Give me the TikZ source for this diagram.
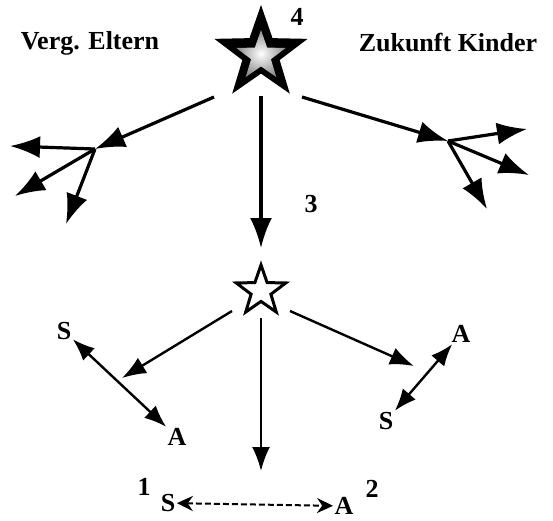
\documentclass[tikz,border=0pt]{standalone}
\usepackage{fontspec}
\setmainfont{Liberation Serif}
\usetikzlibrary{arrows.meta,shapes.geometric}

\begin{document}
\begin{tikzpicture}[x=1pt,y=-1pt,line width=3.2pt,
  label/.style={font=\fontsize{26}{28}\selectfont\bfseries,inner sep=0pt},
  bigarrow/.style={-{Latex[length=30pt,width=22pt]}},
  smallarrow/.style={line width=2.4pt,-{Latex[length=24pt,width=18pt]}},
  twoway/.style={line width=2.4pt,{Latex[length=22pt,width=17pt]}-{Latex[length=22pt,width=17pt]}}]

\useasboundingbox (0,0) rectangle (553,520);

% 4
\node[star,star points=5,star point ratio=2.5,fill=black,minimum size=98pt,inner sep=0pt] (Star4) at (261,54) {};
\node[star,star points=5,star point ratio=2.5,inner color=white,outer color=black!45,minimum size=52pt,inner sep=0pt] (Star4inner) at (261,56) {};
\node[label] (Num4) at (297,17) {4};

\node[label] (Parents) at (90,43) {Verg. Eltern};
\node[label] (Children) at (448,43) {Zukunft Kinder};

\coordinate (ParentsStart) at (214,97);
\coordinate (ParentsFork) at (95,149);
\coordinate (ChildrenStart) at (302,97);
\coordinate (ChildrenFork) at (448,141);

\draw[bigarrow] (ParentsStart) -- (ParentsFork);
\draw[bigarrow] (ChildrenStart) -- (ChildrenFork);

\coordinate (ParentsA) at (10,146);
\coordinate (ParentsB) at (15,196);
\coordinate (ParentsC) at (66,224);
\coordinate (ChildrenA) at (527,129);
\coordinate (ChildrenB) at (529,175);
\coordinate (ChildrenC) at (487,209);

\draw[bigarrow] (ParentsFork) -- (ParentsA);
\draw[bigarrow] (ParentsFork) -- (ParentsB);
\draw[bigarrow] (ParentsFork) -- (ParentsC);
\draw[bigarrow] (ChildrenFork) -- (ChildrenA);
\draw[bigarrow] (ChildrenFork) -- (ChildrenB);
\draw[bigarrow] (ChildrenFork) -- (ChildrenC);

% 3
\node[star,star points=5,star point ratio=2.5,draw=black,line width=3pt,fill=white,minimum size=52pt,inner sep=0pt] (Star3) at (261,291) {};
\coordinate (DownStart) at (261,96);
\coordinate (DownEnd) at (261,248);
\draw[bigarrow] (DownStart) -- (DownEnd);
\node[label] (Num3) at (311,204) {3};

% lower part
\coordinate (LeftStart) at (232,311);
\coordinate (LeftEnd) at (122,378);
\coordinate (RightStart) at (290,311);
\coordinate (RightEnd) at (414,366);
\coordinate (MidStart) at (261,318);
\coordinate (MidEnd) at (261,471);

\draw[smallarrow] (LeftStart) -- (LeftEnd);
\draw[smallarrow] (RightStart) -- (RightEnd);
\draw[smallarrow] (MidStart) -- (MidEnd);

\node[label] (LeftS) at (64,331) {S};
\node[label] (LeftA) at (177,437) {A};
\draw[twoway] (LeftS) -- (LeftA);

\node[label] (RightA) at (461,334) {A};
\node[label] (RightS) at (386,421) {S};
\draw[twoway] (RightA) -- (RightS);

\node[label] (Num1) at (144,487) {1};
\node[label] (BottomS) at (168,503) {S};
\node[label] (BottomA) at (344,506) {A};
\node[label] (Num2) at (372,489) {2};
\draw[line width=2pt,dash pattern=on 6pt off 3pt,{Stealth[length=16pt,width=15pt]}-{Stealth[length=16pt,width=15pt]}] (BottomS) -- (BottomA);

\end{tikzpicture}
\end{document}
